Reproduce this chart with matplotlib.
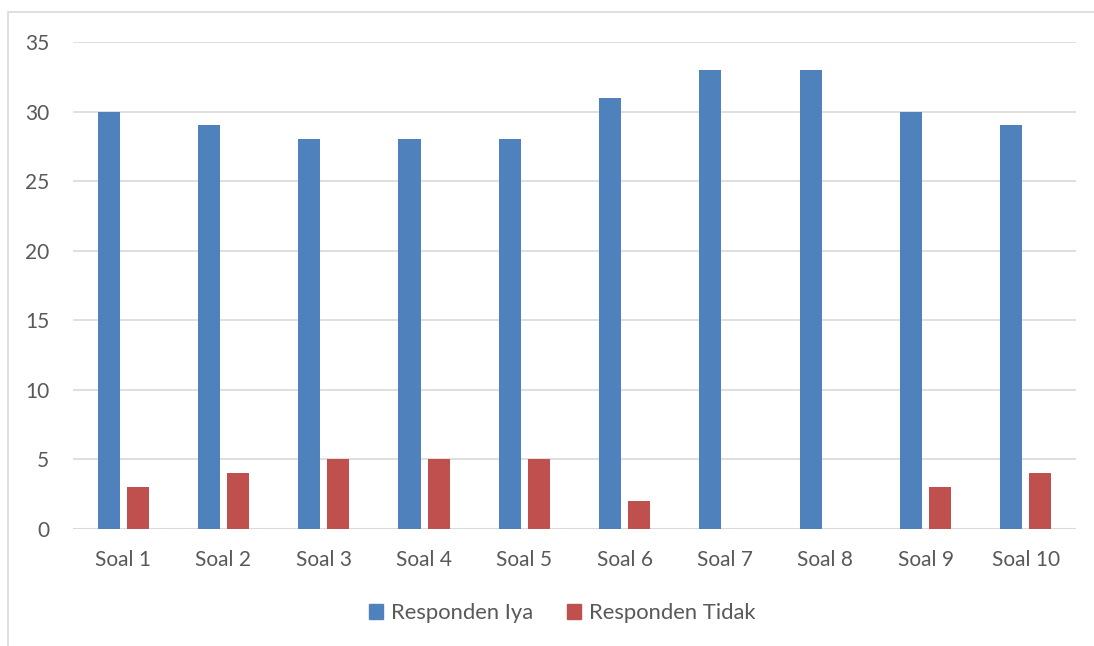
import matplotlib.pyplot as plt
from matplotlib.patches import Rectangle, Patch
import numpy as np

kategori = ["Soal 1", "Soal 2", "Soal 3", "Soal 4", "Soal 5",
            "Soal 6", "Soal 7", "Soal 8", "Soal 9", "Soal 10"]
responden_iya = [30, 29, 28, 28, 28, 31, 33, 33, 30, 29]
responden_tidak = [3, 4, 5, 5, 5, 2, 0, 0, 3, 4]

biru = "#4F81BD"
merah = "#C0504D"
teks = "#595959"

plt.rcParams['font.family'] = ['Lato', 'DejaVu Sans']

fig = plt.figure(figsize=(10.94, 6.46), dpi=100)
# frame of the chart area (cropped on right and bottom)
fig.patches.append(Rectangle((8 / 1094, -0.1), 1.2, (646 - 12) / 646 + 0.1,
                             transform=fig.transFigure, fill=False,
                             edgecolor="#D9D9D9", linewidth=1.2))

ax = fig.add_axes([73 / 1094, 1 - 529 / 646, (1076 - 73) / 1094, (529 - 42) / 646])
x = np.arange(len(kategori))
lebar = 0.22
ax.bar(x - 0.145, responden_iya, lebar, color=biru, label="Responden Iya", zorder=3)
ax.bar(x + 0.145, responden_tidak, lebar, color=merah, label="Responden Tidak", zorder=3)

ax.set_xlim(-0.5, len(kategori) - 0.5)
ax.set_ylim(0, 35)
ax.set_yticks(range(0, 36, 5))
ax.set_xticks(x)
ax.set_xticklabels(kategori)
ax.grid(axis="y", color="#D9D9D9", linewidth=1.2, zorder=0)
for s in ax.spines.values():
    s.set_visible(False)
ax.axhline(0, color="#D9D9D9", linewidth=1.5, zorder=2)
ax.tick_params(axis="both", length=0, labelsize=15, colors=teks)
ax.tick_params(axis="y", pad=17)
ax.tick_params(axis="x", pad=15)

handles = [Patch(color=biru), Patch(color=merah)]
fig.legend(handles, ["Responden Iya", "Responden Tidak"], loc="center",
           bbox_to_anchor=(562 / 1094, 1 - 613 / 646), ncol=2, frameon=False,
           fontsize=15.8, labelcolor=teks, handlelength=0.65, handleheight=0.65,
           handletextpad=0.35, columnspacing=1.55)

fig.savefig("out.png", dpi=100, facecolor="white")
